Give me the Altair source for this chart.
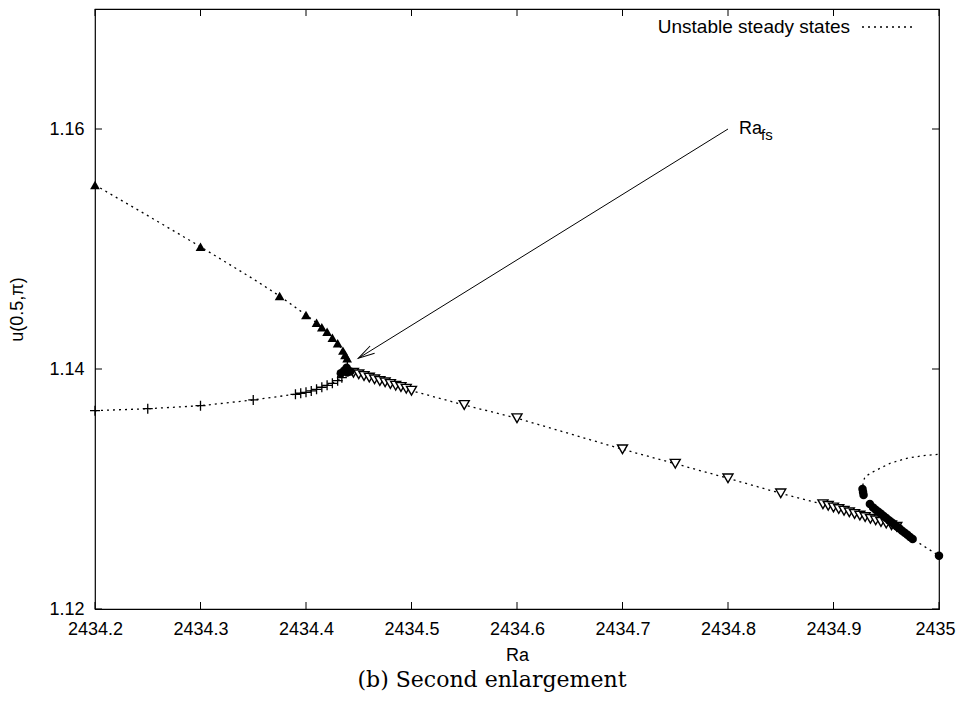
import altair as alt
import pandas as pd

# ---------------- data ----------------
# filled up-triangles (upper branch)
up_ra = [2434.2, 2434.3, 2434.375, 2434.40, 2434.41, 2434.415, 2434.42, 2434.425, 2434.43, 2434.435, 2434.437, 2434.439]
up_u = [1.15533, 1.15019, 1.14608, 1.14450, 1.14386, 1.14348, 1.14311, 1.14261, 1.14214, 1.14153, 1.14117, 1.14089]

# plus markers (lower-left branch)
plus_ra = [2434.2, 2434.25, 2434.3, 2434.35, 2434.39, 2434.395, 2434.40, 2434.405, 2434.41, 2434.415, 2434.42, 2434.425, 2434.43, 2434.434]
plus_u = [1.13653, 1.13669, 1.13694, 1.13742, 1.13789, 1.13798, 1.13806, 1.13817, 1.13831, 1.13848, 1.13864, 1.13881, 1.13903, 1.13928]

# open down-triangles (descending branch)
down_ra = [2434.445, 2434.45, 2434.455, 2434.46, 2434.465, 2434.47, 2434.475, 2434.48, 2434.485, 2434.49, 2434.495, 2434.50,
           2434.55, 2434.6, 2434.7, 2434.75, 2434.8, 2434.85,
           2434.89, 2434.895, 2434.90, 2434.905, 2434.91, 2434.915, 2434.92, 2434.925, 2434.93, 2434.935, 2434.94, 2434.945, 2434.95, 2434.955, 2434.96]
down_u = [1.13969, 1.13956, 1.13942, 1.13928, 1.13914, 1.13900, 1.13889, 1.13875, 1.13861, 1.13850, 1.13836, 1.13819,
          1.13700, 1.13590, 1.13331, 1.13211, 1.13089, 1.12964,
          1.12873, 1.12860, 1.12846, 1.12833, 1.12819, 1.12806, 1.12792, 1.12779, 1.12766, 1.12752, 1.12739, 1.12725, 1.12712, 1.12698, 1.12685]

# filled circles (near the fold and the end point)
circ_ra = [2434.9275, 2434.928, 2434.9285, 2434.9345, 2434.9375, 2434.94, 2434.9425, 2434.945, 2434.9475, 2434.95, 2434.9525,
           2434.955, 2434.9575, 2434.96, 2434.9625, 2434.965, 2434.9675, 2434.97, 2434.9725, 2434.975, 2435.0]
circ_u = [1.13000, 1.12975, 1.12950, 1.12875, 1.12845, 1.12828, 1.12810, 1.12793, 1.12775, 1.12758, 1.12740,
          1.12723, 1.12705, 1.12688, 1.12670, 1.12653, 1.12635, 1.12618, 1.12600, 1.12583, 1.12444]

# filled circles clustered at the cusp
cusp_ra = [2434.433, 2434.436, 2434.439, 2434.442, 2434.439, 2434.4385]
cusp_u = [1.13965, 1.13985, 1.13995, 1.13980, 1.13970, 1.14010]

# unstable steady states (dotted), four branches
segA_ra = [2434.2, 2434.25, 2434.3, 2434.35, 2434.375, 2434.40, 2434.41, 2434.42, 2434.43, 2434.435, 2434.439, 2434.4395]
segA_u = [1.15533, 1.15278, 1.15019, 1.14750, 1.14608, 1.14450, 1.14386, 1.14311, 1.14214, 1.14153, 1.14089, 1.14000]
segB_ra = [2434.2, 2434.25, 2434.3, 2434.35, 2434.38, 2434.39, 2434.40, 2434.41, 2434.42, 2434.43, 2434.434, 2434.4385]
segB_u = [1.13653, 1.13669, 1.13694, 1.13742, 1.13778, 1.13789, 1.13806, 1.13831, 1.13864, 1.13903, 1.13928, 1.13980]
segC_ra = [2434.4385, 2434.445, 2434.47, 2434.50, 2434.55, 2434.6, 2434.7, 2434.75, 2434.8, 2434.85, 2434.89, 2434.92, 2434.945, 2434.962, 2434.975, 2435.0]
segC_u = [1.13980, 1.13969, 1.13900, 1.13819, 1.13700, 1.13590, 1.13331, 1.13211, 1.13089, 1.12964, 1.12873, 1.12792, 1.12725, 1.12675, 1.12583, 1.12444]
segD_ra = [2434.928, 2434.9277, 2434.9281, 2434.9299, 2434.9377, 2434.9536, 2434.9694, 2434.9851, 2435.0]
segD_u = [1.12980, 1.13010, 1.13056, 1.13103, 1.13144, 1.13214, 1.13256, 1.13278, 1.13289]

# annotation arrow (label end -> tip)
arrow_ra = [2434.8]
arrow_u = [1.16]
arrow_ra2 = [2434.4496]
arrow_u2 = [1.14089]
ann_main = ["Ra"]
ann_sub = ["fs"]

x_ticks = [2434.2, 2434.3, 2434.4, 2434.5, 2434.6, 2434.7, 2434.8, 2434.9, 2435.0]
y_ticks = [1.12, 1.14, 1.16]

legend_label = ["Unstable steady states"]
caption = ["(b) Second enlargement"]
x_title = "Ra"
y_title = "u(0.5,π)"

# ---------------- chart ----------------
W, H = 844, 600
FONT = "Liberation Sans"
xscale = alt.Scale(domain=[2434.2, 2435.0], nice=False, zero=False)
yscale = alt.Scale(domain=[1.12, 1.17], nice=False, zero=False)
xaxis = alt.Axis(values=x_ticks, format="~f", title=x_title, labelPadding=11, titlePadding=8,
                 labelFlush=False, labelOverlap=False,
                 labelOffset={"condition": {"test": "datum.value >= 2434.99", "value": -4}, "value": 0},
                 ticks=False, tickSize=0, domain=False, grid=False, labelFontSize=18, titleFontSize=18)
yaxis = alt.Axis(values=y_ticks, format=".2f", title=y_title, labelPadding=11, titlePadding=22,
                 labelFlush=False, labelOverlap=False,
                 ticks=False, tickSize=0, domain=False, grid=False, labelFontSize=18, titleFontSize=18)


def X(field="Ra"):
    return alt.X(f"{field}:Q", scale=xscale, axis=xaxis)


def Y(field="u"):
    return alt.Y(f"{field}:Q", scale=yscale, axis=yaxis)


rows = []
for name, ra, u in [("A", segA_ra, segA_u), ("B", segB_ra, segB_u), ("C", segC_ra, segC_u), ("D", segD_ra, segD_u)]:
    for i, (a, b) in enumerate(zip(ra, u)):
        rows.append({"seg": name, "i": i, "Ra": a, "u": b})
unstable = pd.DataFrame(rows)

line = alt.Chart(unstable).mark_line(color="black", strokeWidth=1.3, strokeDash=[2, 4]).encode(
    x=X(), y=Y(), detail="seg:N", order="i:Q")

up = alt.Chart(pd.DataFrame({"Ra": up_ra, "u": up_u})).mark_point(
    shape="triangle-up", filled=True, color="black", size=95, opacity=1).encode(x=X(), y=Y())

plus = alt.Chart(pd.DataFrame({"Ra": plus_ra, "u": plus_u})).mark_point(
    shape="M-1,0L1,0M0,-1L0,1", filled=False, color="black", size=100, strokeWidth=1.3, opacity=1).encode(x=X(), y=Y())

down = alt.Chart(pd.DataFrame({"Ra": down_ra, "u": down_u})).mark_point(
    shape="triangle-down", filled=False, color="black", fill="white", size=100, strokeWidth=1.4, opacity=1).encode(x=X(), y=Y())

circ = alt.Chart(pd.DataFrame({"Ra": circ_ra + cusp_ra, "u": circ_u + cusp_u})).mark_point(
    shape="circle", filled=True, color="black", size=72, opacity=1).encode(x=X(), y=Y())

arrow_df = pd.DataFrame({"Ra": arrow_ra, "u": arrow_u, "Ra2": arrow_ra2, "u2": arrow_u2,
                         "main": ann_main, "sub": ann_sub})
arrow = alt.Chart(arrow_df).mark_rule(color="black", strokeWidth=1).encode(
    x=X(), y=Y(), x2="Ra2:Q", y2="u2:Q")
head = alt.Chart(arrow_df).mark_point(
    shape="M-1,-0.26L0,0L-1,0.26", filled=False, color="black", size=1089, strokeWidth=1, angle=148.2, opacity=1
).encode(x=alt.X("Ra2:Q", scale=xscale, axis=xaxis), y=alt.Y("u2:Q", scale=yscale, axis=yaxis))
ann1 = alt.Chart(arrow_df).mark_text(align="left", baseline="middle", dx=11, dy=0, font=FONT, fontSize=18, color="black").encode(
    x=X(), y=Y(), text="main:N")
ann2 = alt.Chart(arrow_df).mark_text(align="left", baseline="middle", dx=33, dy=6, font=FONT, fontSize=15, color="black").encode(
    x=X(), y=Y(), text="sub:N")

# inward ticks on all four sides (gnuplot style)
xt = pd.DataFrame({"Ra": x_ticks})
yt = pd.DataFrame({"u": y_ticks})
tk_bottom = alt.Chart(xt).mark_rule(color="black", strokeWidth=1).encode(x=X(), y=alt.value(H), y2=alt.value(H - 7))
tk_top = alt.Chart(xt).mark_rule(color="black", strokeWidth=1).encode(x=X(), y=alt.value(0), y2=alt.value(7))
tk_left = alt.Chart(yt).mark_rule(color="black", strokeWidth=1).encode(y=Y(), x=alt.value(0), x2=alt.value(7))
tk_right = alt.Chart(yt).mark_rule(color="black", strokeWidth=1).encode(y=Y(), x=alt.value(W), x2=alt.value(W - 7))

# legend (top right, inside)
leg_df = pd.DataFrame({"t": legend_label})
leg_text = alt.Chart(leg_df).mark_text(align="right", baseline="middle", font=FONT, fontSize=19, color="black").encode(
    x=alt.value(755), y=alt.value(18), text="t:N")
leg_line = alt.Chart(leg_df).mark_rule(color="black", strokeWidth=1.3, strokeDash=[2, 4]).encode(
    x=alt.value(767), x2=alt.value(818), y=alt.value(18))

cap_df = pd.DataFrame({"t": caption})
cap = alt.Chart(cap_df).mark_text(align="center", baseline="middle", font="DejaVu Serif", fontSize=22, color="black").encode(
    x=alt.value(397), y=alt.value(671), text="t:N")

chart = alt.layer(
    line, up, plus, down, circ, arrow, head, ann1, ann2,
    tk_bottom, tk_top, tk_left, tk_right, leg_text, leg_line, cap
).properties(
    width=W, height=H,
    autosize=alt.AutoSizeParams(type="none"),
    padding={"left": 87, "top": 1, "right": 17, "bottom": 86},
).configure_view(
    stroke="black", strokeWidth=1.2
).configure_axis(
    labelFont=FONT, titleFont=FONT, labelColor="black", titleColor="black", titleFontWeight="normal"
)

chart.save("out.html", embed_options={"renderer": "svg", "actions": False})
